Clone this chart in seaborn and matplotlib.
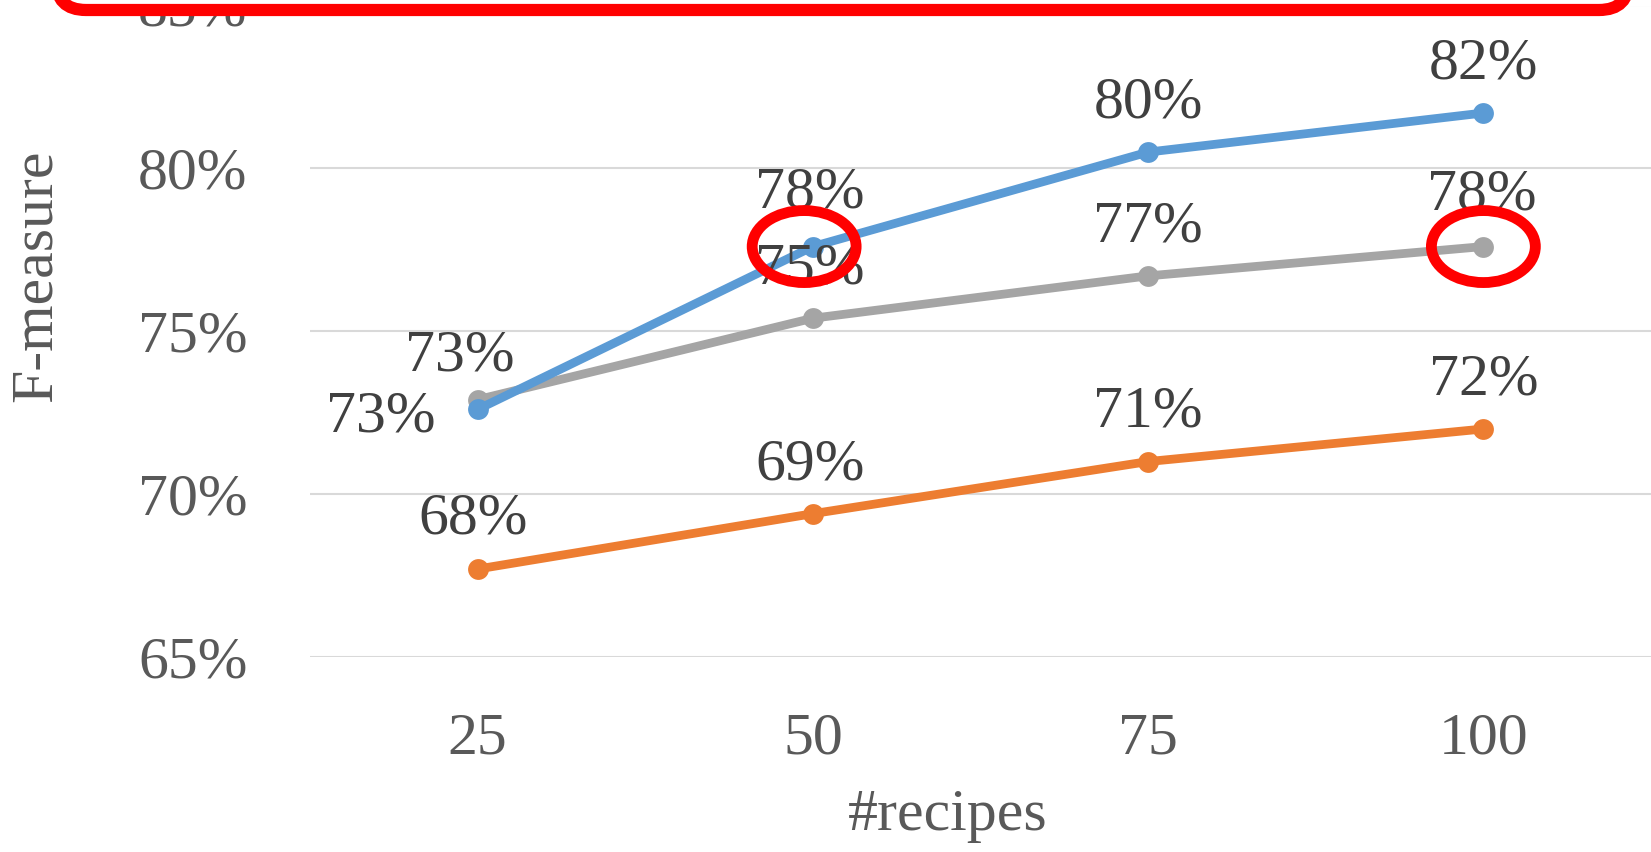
import matplotlib
matplotlib.use("Agg")
import matplotlib.pyplot as plt
import seaborn as sns
import pandas as pd
from matplotlib.patches import Ellipse, FancyBboxPatch
from matplotlib.transforms import IdentityTransform

# ---- data ----
recipes = ["25", "50", "75", "100"]
series_names = ["A", "B", "C"]
blue_vals = [72.6, 77.6, 80.5, 81.7]
gray_vals = [72.9, 75.4, 76.7, 77.6]
orange_vals = [67.7, 69.4, 71.0, 72.0]
y_ticks = [65, 70, 75, 80, 85]
x_label = "#recipes"
y_label = "F-measure"

colors = {"A": "#5B9BD5", "B": "#A5A5A5", "C": "#ED7D31"}

sns.set_theme(style="white")
plt.rcParams["font.family"] = ["Liberation Serif", "DejaVu Serif"]

df = pd.DataFrame({
    "recipes": recipes * 3,
    "x": list(range(len(recipes))) * 3,
    "F": blue_vals + gray_vals + orange_vals,
    "series": ["A"] * 4 + ["B"] * 4 + ["C"] * 4,
})

fig = plt.figure(figsize=(16.51, 8.52), dpi=100)
W, H = 1651, 852
ax_left, ax_right, ax_bottom, ax_top = 310, 1651, 657, 5.5
ax = fig.add_axes([ax_left / W, 1 - ax_bottom / H, (ax_right - ax_left) / W, (ax_bottom - ax_top) / H])

for s, order in zip(["C", "B", "A"], [1, 2, 3]):
    sub = df[df.series == s]
    sns.lineplot(data=sub, x="x", y="F", color=colors[s], linewidth=6.3, marker="o",
                 markersize=15, markeredgewidth=0, ax=ax, zorder=order, legend=False)

ax.set_xlim(-0.5, 3.5)
ax.set_ylim(65, 85)
ax.set_xticks(range(len(recipes)))
ax.set_xticklabels(recipes)
ax.set_yticks(y_ticks)
ax.set_yticklabels([f"{t}%" for t in y_ticks])
ax.tick_params(axis="both", length=0, labelsize=43, labelcolor="#595959")
ax.tick_params(axis="x", pad=40)
ax.tick_params(axis="y", pad=45)
ax.grid(axis="y", color="#D9D9D9", linewidth=1.5)
ax.grid(axis="x", visible=False)
for sp in ax.spines.values():
    sp.set_visible(False)

ax.set_xlabel(x_label, fontsize=43, color="#595959", va="center")
ax.set_ylabel(y_label, fontsize=43, color="#595959", va="center")
ax.xaxis.set_label_coords((948 - ax_left) / (ax_right - ax_left), (ax_bottom - 816) / (ax_bottom - ax_top))
ax.yaxis.set_label_coords((37 - ax_left) / (ax_right - ax_left), (ax_bottom - 276) / (ax_bottom - ax_top))

# data labels
def label(vals, offsets):
    for i, (v, off) in enumerate(zip(vals, offsets)):
        ax.annotate(f"{round(v)}%", (i, v), xytext=off, textcoords="offset points",
                    ha="center", va="center", fontsize=43, color="#404040", zorder=5)

label(blue_vals, [(-70, -6), (-2, 38), (0, 35), (0, 35)])
label(gray_vals, [(-13, 31), (-2, 35), (0, 35), (-1, 37)])
label(orange_vals, [(-3, 36), (-2, 35), (0, 35), (0, 35)])

# red highlight ellipses
ax.add_patch(Ellipse((1 - 0.026, blue_vals[1]), 0.31, 2.21, fill=False,
                     edgecolor="#FF0000", linewidth=7.8, zorder=6))
ax.add_patch(Ellipse((3, gray_vals[3]), 0.31, 2.21, fill=False,
                     edgecolor="#FF0000", linewidth=7.8, zorder=6))

# red rounded frame at top
frame = FancyBboxPatch((56, 842), 1629 - 56, 120,
                       boxstyle="round,pad=0,rounding_size=30",
                       transform=IdentityTransform(), facecolor="white",
                       edgecolor="#FF0000", linewidth=8.8, zorder=10)
fig.patches.append(frame)

fig.savefig("out.png", dpi=100)
